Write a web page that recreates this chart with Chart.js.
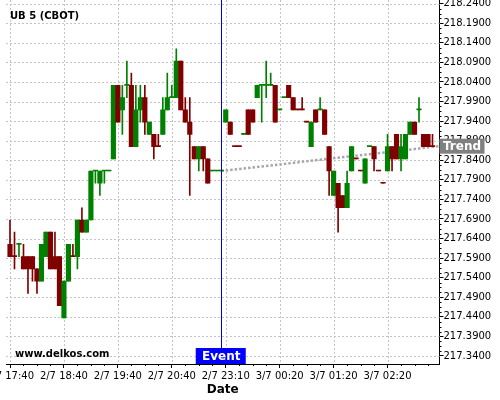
<!DOCTYPE html>
<html>
<head>
<meta charset="utf-8">
<script src="https://cdn.jsdelivr.net/npm/chart.js@4.4.1/dist/chart.umd.min.js"></script>
<style>
  html, body { margin: 0; padding: 0; background: #fff; }
  #chart { display: block; }
</style>
</head>
<body>
<canvas id="chart" width="500" height="400"></canvas>
<script>
// 5 minute candles, one slot per candle
const opens = [
  217.625, 217.59375, 217.625, 217.59375, 217.59375, 217.59375, 217.5625, 217.53125, 217.59375, 217.65625,
  217.59375, 217.59375, 217.4375, 217.53125, 217.59375, 217.59375, 217.6875, 217.65625, 217.6875, 217.8125,
  217.78125, 217.8125, 217.8125, 217.84375, 218.03125, 217.96875, 218.03125, 218.03125, 217.875, 217.96875,
  218.0, 217.90625, 217.90625, 217.875, 217.90625, 217.96875, 218.0, 218.0, 218.09375, 217.96875,
  217.9375, 217.875, 217.84375, 217.875, 217.84375, 217.8125, 217.8125, 217.8125, 217.9375, 217.9375,
  217.875, 217.875, 217.90625, 217.96875, 217.96875, 218.0, 218.03125, 218.03125, 218.03125, 218.03125,
  217.96875, 218.0, 218.03125, 218.0, 217.96875, 217.96875, 217.9375, 217.875, 217.96875, 217.96875,
  217.96875, 217.875, 217.75, 217.78125, 217.75, 217.71875, 217.8125, 217.84375, 217.8125, 217.78125,
  217.875, 217.875, 217.8125, 217.78125, 217.8125, 217.875, 217.90625, 217.84375, 217.84375, 217.90625,
  217.9375, 217.96875, 217.90625, 217.90625, 217.875
];
const highs = [
  217.6875, 217.65625, 217.625, 217.625, 217.59375, 217.59375, 217.5625, 217.625, 217.65625, 217.65625,
  217.65625, 217.59375, 217.53125, 217.625, 217.625, 217.6875, 217.71875, 217.6875, 217.8125, 217.8125,
  217.8125, 217.8125, 217.8125, 218.03125, 218.03125, 218.03125, 218.09375, 218.0625, 218.03125, 218.03125,
  218.03125, 217.9375, 217.90625, 217.90625, 218.0, 218.0625, 218.03125, 218.125, 218.09375, 218.0,
  218.0, 217.875, 217.875, 217.875, 217.84375, 217.8125, 217.8125, 217.8125, 217.96875, 217.9375,
  217.875, 217.875, 217.90625, 217.96875, 217.96875, 218.03125, 218.03125, 218.09375, 218.0625, 218.03125,
  217.96875, 218.0, 218.03125, 218.0, 217.96875, 218.0, 217.9375, 217.9375, 217.96875, 218.0,
  217.96875, 217.875, 217.8125, 217.78125, 217.75, 217.8125, 217.875, 217.84375, 217.8125, 217.84375,
  217.875, 217.875, 217.8125, 217.78125, 217.90625, 217.875, 217.90625, 217.90625, 217.90625, 217.9375,
  217.9375, 218.0, 217.90625, 217.90625, 217.90625
];
const lows = [
  217.59375, 217.5625, 217.59375, 217.5625, 217.5, 217.53125, 217.5, 217.53125, 217.59375, 217.5625,
  217.5625, 217.46875, 217.4375, 217.53125, 217.59375, 217.5625, 217.65625, 217.65625, 217.6875, 217.78125,
  217.75, 217.78125, 217.8125, 217.84375, 217.9375, 217.90625, 218.0, 217.875, 217.875, 217.9375,
  217.90625, 217.90625, 217.84375, 217.875, 217.90625, 217.96875, 218.0, 218.0, 217.96875, 217.9375,
  217.75, 217.84375, 217.8125, 217.8125, 217.78125, 217.8125, 217.8125, 217.8125, 217.9375, 217.90625,
  217.875, 217.875, 217.90625, 217.90625, 217.9375, 218.0, 217.9375, 218.0, 218.03125, 217.9375,
  217.96875, 218.0, 218.0, 217.96875, 217.96875, 217.96875, 217.9375, 217.875, 217.9375, 217.96875,
  217.90625, 217.75, 217.75, 217.65625, 217.71875, 217.71875, 217.8125, 217.84375, 217.8125, 217.78125,
  217.875, 217.8125, 217.8125, 217.78125, 217.8125, 217.8125, 217.84375, 217.8125, 217.84375, 217.90625,
  217.90625, 217.9375, 217.875, 217.875, 217.875
];
const closes = [
  217.59375, 217.59375, 217.625, 217.5625, 217.5625, 217.5625, 217.53125, 217.625, 217.65625, 217.5625,
  217.5625, 217.46875, 217.53125, 217.625, 217.59375, 217.6875, 217.65625, 217.6875, 217.8125, 217.8125,
  217.8125, 217.8125, 217.8125, 218.03125, 217.9375, 218.0, 218.03125, 217.875, 217.96875, 218.0,
  217.9375, 217.9375, 217.875, 217.875, 217.96875, 218.0, 218.0, 218.09375, 217.96875, 217.9375,
  217.90625, 217.84375, 217.875, 217.84375, 217.78125, 217.8125, 217.8125, 217.8125, 217.96875, 217.90625,
  217.875, 217.875, 217.90625, 217.90625, 217.9375, 218.03125, 218.03125, 218.03125, 218.03125, 217.9375,
  217.96875, 218.0, 218.0, 217.96875, 217.96875, 217.96875, 217.9375, 217.9375, 217.9375, 217.96875,
  217.90625, 217.8125, 217.8125, 217.71875, 217.71875, 217.78125, 217.875, 217.84375, 217.8125, 217.84375,
  217.875, 217.84375, 217.8125, 217.78125, 217.875, 217.84375, 217.84375, 217.875, 217.90625, 217.9375,
  217.90625, 217.96875, 217.875, 217.875, 217.875
];
// flat candles drawn in green (the rest of the flat ones are red)
const greenDojis = [2, 19, 21, 22, 26, 36, 45, 46, 47, 52, 56, 57, 58, 60, 61, 69, 80, 91];

const xTickSlots = [0, 12, 24, 36, 48, 60, 72, 84];
const xTickLabels = ['2/7 17:40', '2/7 18:40', '2/7 19:40', '2/7 20:40', '2/7 23:10', '3/7 00:20', '3/7 01:20', '3/7 02:20'];
const yTicks = [217.34, 217.39, 217.44, 217.49, 217.54, 217.59, 217.64, 217.69, 217.74, 217.79,
  217.84, 217.89, 217.94, 217.99, 218.04, 218.09, 218.14, 218.19, 218.24];

const eventSlot = 47;
const trendSlots = [47, 95.56];
const trendValues = [217.8125, 217.876];

const UP = '#008000';
const DOWN = '#800000';
const GRID = '#c4c4c4';
const FONT = '"DejaVu Sans", sans-serif';

function candleColor(i) {
  if (closes[i] > opens[i]) return UP;
  if (closes[i] < opens[i]) return DOWN;
  return greenDojis.includes(i) ? UP : DOWN;
}

const slots = opens.map((_, i) => i);
const bodies = slots.map(i => ({ x: i, y: [opens[i], closes[i]] }));
const wicks = slots.map(i => ({ x: i, y: [lows[i], highs[i]] }));
const colors = slots.map(candleColor);
const trend = trendSlots.map((s, i) => ({ x: s, y: trendValues[i] }));

const overlay = {
  id: 'overlay',
  beforeDatasetsDraw(chart) {
    // dashed grid, drawn here instead of by the scales
    const { ctx, chartArea: a, scales: { x, y } } = chart;
    ctx.save();
    ctx.strokeStyle = GRID;
    ctx.lineWidth = 1;
    ctx.setLineDash([2, 2]);
    ctx.beginPath();
    yTicks.forEach(v => {
      const py = Math.round(y.getPixelForValue(v)) + 0.5;
      ctx.moveTo(a.left, py);
      ctx.lineTo(a.right, py);
    });
    xTickSlots.forEach(s => {
      const px = Math.round(x.getPixelForValue(s)) + 0.5;
      ctx.moveTo(px, a.top);
      ctx.lineTo(px, a.bottom);
    });
    ctx.stroke();
    ctx.restore();
  },
  afterDatasetsDraw(chart) {
    const { ctx, chartArea: a, scales: { x } } = chart;
    const ex = Math.round(x.getPixelForValue(eventSlot)) + 0.5;
    ctx.save();
    ctx.strokeStyle = '#0000dd';
    ctx.lineWidth = 1;
    ctx.beginPath();
    ctx.moveTo(ex, a.top);
    ctx.lineTo(ex, a.bottom);
    ctx.stroke();
    ctx.restore();
  },
  afterDraw(chart) {
    const { ctx, chartArea: a, scales: { x, y } } = chart;
    ctx.save();

    // minor ticks, 4 per major step
    ctx.strokeStyle = '#000';
    ctx.lineWidth = 1;
    ctx.beginPath();
    for (let i = 3; i <= 95; i += 3) {
      if (i % 12 === 0) continue;
      const px = Math.round(x.getPixelForValue(i)) + 0.5;
      ctx.moveTo(px, a.bottom);
      ctx.lineTo(px, a.bottom + 2);
    }
    for (let k = 0; k < yTicks.length - 1; k++) {
      for (let m = 1; m < 4; m++) {
        const v = yTicks[k] + (yTicks[k + 1] - yTicks[k]) * m / 4;
        const py = Math.round(y.getPixelForValue(v)) + 0.5;
        ctx.moveTo(a.right, py);
        ctx.lineTo(a.right + 2, py);
      }
    }
    ctx.stroke();

    // title + watermark
    ctx.fillStyle = '#000';
    ctx.textBaseline = 'middle';
    ctx.textAlign = 'left';
    ctx.font = 'bold 10px ' + FONT;
    ctx.fillText('UB 5 (CBOT)', 10, 16);
    ctx.fillText('www.delkos.com', 15, 354);

    // event label
    const ex = x.getPixelForValue(eventSlot);
    ctx.fillStyle = '#0000ff';
    ctx.fillRect(ex - 25.5, a.bottom - 16, 50, 16);
    ctx.fillStyle = '#fff';
    ctx.font = 'bold 12px ' + FONT;
    ctx.textAlign = 'center';
    ctx.fillText('Event', ex, a.bottom - 7.5);

    // trend label
    const ty = y.getPixelForValue(trendValues[trendValues.length - 1]);
    ctx.fillStyle = '#808080';
    ctx.fillRect(a.right, ty - 7.5, 45, 15);
    ctx.fillStyle = '#fff';
    ctx.textAlign = 'left';
    ctx.fillText('Trend', a.right + 3.5, ty + 0.5);

    ctx.restore();
  }
};

new Chart(document.getElementById('chart'), {
  data: {
    datasets: [
      {
        type: 'bar',
        data: bodies,
        backgroundColor: colors,
        barThickness: 4.5,
        minBarLength: 1,
        grouped: false,
        order: 0
      },
      {
        type: 'bar',
        data: wicks,
        backgroundColor: colors,
        barThickness: 1,
        grouped: false,
        order: 1
      },
      {
        type: 'line',
        data: trend,
        borderColor: '#a8a8a8',
        borderWidth: 2.5,
        borderDash: [2.5, 2],
        pointRadius: 0,
        order: 2
      }
    ]
  },
  options: {
    responsive: false,
    animation: false,
    layout: { padding: { left: 6, top: 0, right: 0, bottom: 0 } },
    plugins: {
      legend: { display: false },
      tooltip: { enabled: false }
    },
    scales: {
      x: {
        type: 'linear',
        offset: false,
        min: -0.89,
        max: 95.56,
        afterBuildTicks: (scale) => {
          scale.ticks = xTickSlots.map(v => ({ value: v }));
        },
        afterFit: (scale) => {
          scale.height = 36;
          scale.paddingLeft = 0;
          scale.paddingRight = 0;
        },
        ticks: {
          color: '#000',
          font: { size: 10, family: FONT },
          padding: 2,
          maxRotation: 0,
          autoSkip: false,
          callback: (v) => xTickLabels[xTickSlots.indexOf(v)]
        },
        grid: {
          offset: false,
          drawOnChartArea: false,
          color: '#000',
          tickLength: 4
        },
        border: { display: true, color: '#000', width: 1 },
        title: {
          display: true,
          text: 'Date',
          color: '#000',
          font: { size: 12, weight: 'bold', family: FONT },
          padding: { top: 0, bottom: 3 }
        }
      },
      y: {
        type: 'linear',
        position: 'right',
        min: 217.3195,
        max: 218.2495,
        afterBuildTicks: (scale) => {
          scale.ticks = yTicks.map(v => ({ value: v }));
        },
        afterFit: (scale) => {
          scale.width = 60.5;
          scale.paddingTop = 0;
          scale.paddingBottom = 0;
        },
        ticks: {
          color: '#000',
          font: { size: 10, family: FONT },
          padding: 0,
          callback: (v) => v.toFixed(4)
        },
        grid: {
          drawOnChartArea: false,
          color: '#000',
          tickLength: 4
        },
        border: { display: true, color: '#000', width: 1 }
      }
    }
  },
  plugins: [overlay]
});
</script>
</body>
</html>
